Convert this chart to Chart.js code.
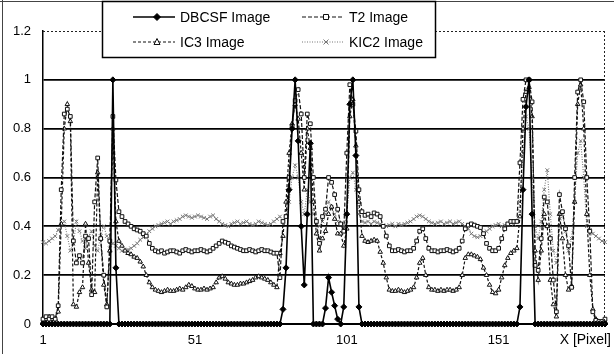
<!DOCTYPE html>
<html>
<head>
<meta charset="utf-8">
<script src="https://cdn.jsdelivr.net/npm/chart.js@4.4.1/dist/chart.umd.min.js"></script>
<style>
  body { margin: 0; background: #fff; }
</style>
</head>
<body>
<canvas id="myChart" width="614" height="354"></canvas>
<script>
// x = pixel position 1..186
const pixeles = [];
for (let i = 1; i <= 186; i++) {
    pixeles.push(String(i));
}
const etiquetasX = ["1", "51", "101", "151"];
const etiquetasY = [0, 0.2, 0.4, 0.6, 0.8, 1, 1.2];

const dbcsf = [
    0, 0, 0, 0, 0, 0, 0, 0, 0, 0,
    0, 0, 0, 0, 0, 0, 0, 0, 0, 0,
    0, 0, 0, 1.0, 0.23, 0, 0, 0, 0, 0,
    0, 0, 0, 0, 0, 0, 0, 0, 0, 0,
    0, 0, 0, 0, 0, 0, 0, 0, 0, 0,
    0, 0, 0, 0, 0, 0, 0, 0, 0, 0,
    0, 0, 0, 0, 0, 0, 0, 0, 0, 0,
    0, 0, 0, 0, 0, 0, 0, 0, 0, 0.06,
    0.23, 0.55, 0.8, 1.0, 0.75, 0.4, 0.16, 0.45, 0.74, 0,
    0, 0, 0, 0.065, 0.19, 0.13, 0.075, 0.02, 0, 0.07,
    0.45, 0.9, 1.0, 0.69, 0.07, 0, 0, 0, 0, 0,
    0, 0, 0, 0, 0, 0, 0, 0, 0, 0,
    0, 0, 0, 0, 0, 0, 0, 0, 0, 0,
    0, 0, 0, 0, 0, 0, 0, 0, 0, 0,
    0, 0, 0, 0, 0, 0, 0, 0, 0, 0,
    0, 0, 0, 0, 0, 0, 0, 0.07, 0.55, 0.89,
    1.0, 0.45, 0, 0, 0, 0, 0, 0, 0, 0,
    0, 0, 0, 0, 0, 0, 0, 0, 0, 0,
    0, 0, 0, 0, 0, 0
];

const t2 = [
    0.02, 0.03, 0.02, 0.03, 0.02, 0.075, 0.55, 0.86, 0.88, 0.85,
    0.34, 0.25, 0.28, 0.25, 0.36, 0.35, 0.12, 0.5, 0.68, 0.35,
    0.2, 0.07, 0.34, 0.85, 0.59, 0.46, 0.44, 0.42, 0.41, 0.4,
    0.39, 0.385, 0.38, 0.37, 0.36, 0.33, 0.31, 0.3, 0.295, 0.3,
    0.29, 0.295, 0.3, 0.3, 0.295, 0.29, 0.3, 0.305, 0.3, 0.295,
    0.3, 0.3, 0.305, 0.3, 0.295, 0.3, 0.31, 0.32, 0.33, 0.34,
    0.335, 0.33, 0.32, 0.315, 0.31, 0.305, 0.3, 0.3, 0.305, 0.3,
    0.295, 0.3, 0.305, 0.3, 0.3, 0.295, 0.29, 0.29, 0.19, 0.42,
    0.44, 0.6, 0.81, 0.915, 0.96, 0.86, 0.6, 0.86, 0.82, 0.6,
    0.42, 0.33, 0.44, 0.47, 0.6, 0.58, 0.53, 0.47, 0.41, 0.38,
    0.7, 0.98, 0.9, 0.79, 0.55, 0.46, 0.445, 0.45, 0.44, 0.455,
    0.45, 0.44, 0.4, 0.36, 0.32, 0.3, 0.3, 0.305, 0.3, 0.295,
    0.3, 0.3, 0.31, 0.34, 0.38, 0.39, 0.35, 0.31, 0.3, 0.3,
    0.295, 0.3, 0.3, 0.305, 0.3, 0.295, 0.3, 0.31, 0.34, 0.39,
    0.405, 0.41, 0.405, 0.4, 0.395, 0.37, 0.33, 0.31, 0.3, 0.3,
    0.31, 0.35, 0.39, 0.41, 0.42, 0.42, 0.42, 0.66, 0.92, 1.0,
    1.0, 0.91, 0.24, 0.22, 0.35, 0.52, 0.5, 0.35, 0.18, 0.05,
    0.53, 0.46, 0.39, 0.32, 0.15, 0.6, 0.95, 1.0, 0.91, 0.6,
    0.38, 0.05, 0.015, 0.01, 0.01, 0.02
];

const ic3 = [
    0.01, 0.02, 0.03, 0.02, 0.02, 0.05, 0.41, 0.8, 0.9, 0.83,
    0.08, 0.07, 0.13, 0.15, 0.41, 0.25, 0.14, 0.13, 0.62, 0.35,
    0.16, 0.08, 0.3, 0.8, 0.42, 0.34, 0.32, 0.3, 0.29, 0.285,
    0.275, 0.27, 0.255, 0.235, 0.2, 0.17, 0.15, 0.14, 0.135, 0.13,
    0.135, 0.14, 0.135, 0.135, 0.14, 0.145, 0.14, 0.15, 0.16, 0.155,
    0.145, 0.14, 0.14, 0.145, 0.14, 0.145, 0.15, 0.17, 0.19, 0.195,
    0.185, 0.17, 0.165, 0.16, 0.16, 0.165, 0.165, 0.17, 0.175, 0.18,
    0.19, 0.195, 0.19, 0.185, 0.18, 0.17, 0.16, 0.15, 0.29, 0.36,
    0.5, 0.7, 0.82, 0.9, 0.84, 0.7, 0.55, 0.8, 0.72, 0.5,
    0.37, 0.3, 0.35, 0.38, 0.45, 0.48, 0.43, 0.37, 0.37, 0.32,
    0.39, 0.85, 0.92, 0.73, 0.5, 0.36, 0.34, 0.335, 0.34, 0.345,
    0.34, 0.295, 0.25, 0.19, 0.14, 0.135, 0.135, 0.14, 0.135, 0.13,
    0.135, 0.14, 0.15, 0.19, 0.25, 0.27, 0.2, 0.15, 0.14, 0.14,
    0.135, 0.14, 0.135, 0.14, 0.14, 0.135, 0.14, 0.15, 0.2, 0.27,
    0.285, 0.285, 0.28, 0.275, 0.265, 0.23, 0.2, 0.16, 0.13, 0.125,
    0.14, 0.19, 0.24, 0.27, 0.29, 0.3, 0.31, 0.44, 0.8, 0.95,
    0.97, 0.85, 0.3, 0.18, 0.3, 0.45, 0.4, 0.18, 0.08, 0.03,
    0.45, 0.35, 0.2, 0.14, 0.155, 0.5, 0.9, 0.98, 0.8, 0.45,
    0.2, 0.06, 0.02, 0.01, 0.01, 0.01
];

const kic2 = [
    0.335, 0.33, 0.34, 0.35, 0.36, 0.385, 0.41, 0.42, 0.36, 0.3,
    0.33, 0.42, 0.38, 0.34, 0.31, 0.36, 0.38, 0.32, 0.3, 0.36,
    0.4, 0.36, 0.31, 0.33, 0.32, 0.31, 0.3, 0.3, 0.305, 0.31,
    0.32, 0.33, 0.345, 0.355, 0.365, 0.38, 0.39, 0.4, 0.405, 0.41,
    0.415, 0.42, 0.41, 0.42, 0.425, 0.43, 0.44, 0.445, 0.44, 0.435,
    0.44, 0.445, 0.44, 0.435, 0.43, 0.44, 0.445, 0.43, 0.42, 0.41,
    0.405, 0.4, 0.41, 0.415, 0.42, 0.41, 0.415, 0.42, 0.41, 0.405,
    0.41, 0.42, 0.415, 0.41, 0.405, 0.41, 0.42, 0.43, 0.44, 0.42,
    0.44, 0.5, 0.6, 0.65, 0.6, 0.5, 0.45, 0.55, 0.5, 0.45,
    0.42, 0.4, 0.42, 0.45, 0.5, 0.48, 0.45, 0.42, 0.41, 0.4,
    0.45, 0.6, 0.62, 0.55, 0.45, 0.42, 0.415, 0.42, 0.41, 0.42,
    0.415, 0.41, 0.405, 0.4, 0.405, 0.41, 0.4, 0.41, 0.405, 0.41,
    0.415, 0.42, 0.43, 0.44, 0.445, 0.44, 0.43, 0.42, 0.415, 0.41,
    0.415, 0.42, 0.41, 0.415, 0.42, 0.41, 0.415, 0.42, 0.41, 0.4,
    0.39, 0.37, 0.36, 0.355, 0.36, 0.37, 0.38, 0.39, 0.4, 0.405,
    0.41, 0.4, 0.405, 0.41, 0.415, 0.41, 0.42, 0.5, 0.7, 0.85,
    0.8, 0.6, 0.4, 0.35, 0.42, 0.55, 0.63, 0.45, 0.3, 0.25,
    0.4, 0.45, 0.38, 0.3, 0.35, 0.5, 0.7, 0.75, 0.6, 0.4,
    0.385, 0.37, 0.36, 0.35, 0.34, 0.335
];

const fuente = "'Liberation Sans', Arial, sans-serif";

// series: label, data, line dash, marker
const series = [
    { label: "DBCSF Image", data: dbcsf, color: "#000", dash: [], marker: "rectRot", fill: "#000", width: 1.6 },
    { label: "T2 Image", data: t2, color: "#111", dash: [4, 2], marker: "rect", fill: "#fff", width: 1.2 },
    { label: "IC3 Image", data: ic3, color: "#111", dash: [3, 2], marker: "triangle", fill: "#fff", width: 1.2 },
    { label: "KIC2 Image", data: kic2, color: "#777", dash: [1, 1.5], marker: "crossRot", fill: "#777", width: 1.1 },
];

const dibujarMarca = (ctx, tipo, x, y, color, fill) => {
    ctx.save();
    ctx.setLineDash([]);
    ctx.strokeStyle = color;
    ctx.fillStyle = fill;
    ctx.lineWidth = 1;
    ctx.beginPath();
    if (tipo === "rectRot") {
        ctx.moveTo(x, y - 3.5); ctx.lineTo(x + 3.5, y); ctx.lineTo(x, y + 3.5); ctx.lineTo(x - 3.5, y); ctx.closePath();
        ctx.fill(); ctx.stroke();
    } else if (tipo === "rect") {
        ctx.rect(x - 2.5, y - 2.5, 5, 5); ctx.fill(); ctx.stroke();
    } else if (tipo === "triangle") {
        ctx.moveTo(x, y - 3.5); ctx.lineTo(x + 3, y + 2.5); ctx.lineTo(x - 3, y + 2.5); ctx.closePath();
        ctx.fill(); ctx.stroke();
    } else {
        ctx.moveTo(x - 2.5, y - 2.5); ctx.lineTo(x + 2.5, y + 2.5);
        ctx.moveTo(x + 2.5, y - 2.5); ctx.lineTo(x - 2.5, y + 2.5); ctx.stroke();
    }
    ctx.restore();
};

// frame, dotted border, legend box, axis title
const marco = {
    id: "marco",
    afterDraw(chart) {
        const ctx = chart.ctx;
        const a = chart.chartArea;
        ctx.save();
        ctx.strokeStyle = "#444";
        ctx.lineWidth = 1;
        ctx.beginPath();
        ctx.moveTo(2.5, 0); ctx.lineTo(2.5, 354);
        ctx.moveTo(0, 1.5); ctx.lineTo(614, 1.5);
        ctx.stroke();

        ctx.strokeStyle = "#222";
        ctx.setLineDash([2, 2]);
        ctx.beginPath();
        ctx.moveTo(a.left, Math.round(a.top) + 0.5); ctx.lineTo(a.right, Math.round(a.top) + 0.5);
        ctx.moveTo(Math.round(a.right) - 0.5, a.top); ctx.lineTo(Math.round(a.right) - 0.5, a.bottom);
        ctx.stroke();
        ctx.setLineDash([]);

        // legend
        ctx.fillStyle = "#fff";
        ctx.fillRect(102, 1, 333, 56);
        ctx.strokeStyle = "#000";
        ctx.lineWidth = 1.5;
        ctx.strokeRect(102.5, 1.5, 333, 56);

        const pos = [[133, 17], [302, 17], [133, 42], [302, 42]];
        ctx.font = "14px " + fuente;
        ctx.textBaseline = "middle";
        ctx.textAlign = "left";
        series.forEach((s, k) => {
            const [x, y] = pos[k];
            ctx.strokeStyle = s.color;
            ctx.lineWidth = s.width;
            ctx.setLineDash(s.dash);
            ctx.beginPath();
            ctx.moveTo(x, y); ctx.lineTo(x + 42, y);
            ctx.stroke();
            ctx.setLineDash([]);
            dibujarMarca(ctx, s.marker, x + 24, y, s.color, s.fill);
            ctx.fillStyle = "#000";
            ctx.fillText(s.label, x + 47, y + 1);
        });

        ctx.font = "14px " + fuente;
        ctx.textAlign = "right";
        ctx.fillStyle = "#000";
        ctx.fillText("X [Pixel]", 611, 340);
        ctx.restore();
    }
};

const data = {
    labels: pixeles,
    datasets: series.map((s) => ({
        label: s.label,
        data: s.data,
        borderColor: s.color,
        borderWidth: s.width,
        borderDash: s.dash,
        pointStyle: s.marker,
        pointRadius: s.marker === "rectRot" ? 3 : 2.6,
        pointBackgroundColor: s.fill,
        pointBorderColor: s.color,
        pointBorderWidth: 1,
        tension: 0,
        clip: 4,
    })),
};

const config = {
    type: "line",
    data: data,
    options: {
        responsive: false,
        animation: false,
        devicePixelRatio: 1,
        layout: { padding: { top: 31, right: 7, left: 0, bottom: 0 } },
        plugins: {
            legend: { display: false },
            tooltip: { enabled: false },
        },
        scales: {
            x: {
                grid: { display: false, drawTicks: false },
                border: { display: true, color: "#000", width: 2 },
                ticks: {
                    autoSkip: false,
                    maxRotation: 0,
                    padding: 9,
                    color: "#000",
                    font: { size: 13, family: fuente },
                    callback: (val, idx) => (etiquetasX.includes(pixeles[idx]) ? pixeles[idx] : ""),
                },
                afterFit: (scale) => { scale.height = 30; },
            },
            y: {
                min: etiquetasY[0],
                max: etiquetasY[etiquetasY.length - 1],
                grid: {
                    drawTicks: false,
                    lineWidth: 1.8,
                    color: (c) => (c.tick.value > 1.1 || c.tick.value < 0.1 ? "rgba(0,0,0,0)" : "#000"),
                },
                border: { display: true, color: "#000", width: 1.5 },
                ticks: {
                    stepSize: 0.2,
                    padding: 12,
                    color: "#000",
                    font: { size: 13, family: fuente },
                    callback: (v) => String(Number(v.toFixed(1))),
                },
                afterFit: (scale) => { scale.width = 43; },
            },
        },
    },
    plugins: [marco],
};

const myChart = new Chart(document.getElementById("myChart"), config);
</script>
</body>
</html>
